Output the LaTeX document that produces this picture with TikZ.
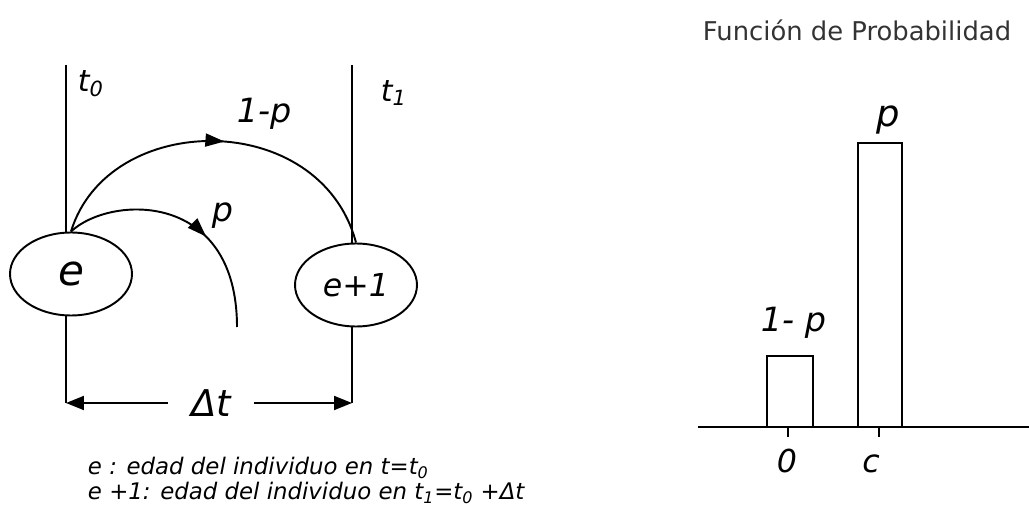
\documentclass[tikz,border=0pt]{standalone}
\usepackage{fontspec}
\setmainfont{DejaVu Sans}
\usetikzlibrary{positioning,shapes.geometric,arrows.meta,decorations.markings}

\begin{document}
\begin{tikzpicture}[x=0.02cm, y=-0.02cm, line width=1.1pt,
  >={Triangle[length=0.36cm,width=0.28cm]},
  every node/.style={font=\itshape\fontsize{19}{22}\selectfont, inner sep=0pt},
  estado/.style={draw, ellipse, minimum width=2.44cm, minimum height=1.66cm},
  leyenda/.style={anchor=base west, font=\itshape\fontsize{13}{15}\selectfont},
  flechamedia/.style={postaction={decorate}, decoration={markings,
    mark=at position #1 with {\arrow{Triangle[length=0.38cm,width=0.26cm]}}}}]
    \useasboundingbox (0,0) rectangle (1029,510);
    \node[estado] (e) at (71,274) {\fontsize{24}{26}\selectfont e};
    \node[estado, font=\itshape\fontsize{18}{21}\selectfont] (e1) at (356,285) {e+1};
    \coordinate (t0top) at (66,65);
    \coordinate (t1top) at (352,65);
    \coordinate (bl) at (66,403);
    \coordinate (br) at (352,403);
    \coordinate (pend) at (237,327);
    \draw (t0top) -- (t0top |- e.north);
    \draw (e.south -| bl) -- (bl);
    \draw (t1top) -- (t1top |- e1.north);
    \draw (e1.south -| br) -- (br);
    \node[anchor=west, font=\itshape\fontsize{17}{20}\selectfont] (t0) at (77,84) {t\textsubscript{0}};
    \node[anchor=west, font=\itshape\fontsize{17}{20}\selectfont] (t1) at (380,93) {t\textsubscript{1}};
    \draw[flechamedia=0.52] (e.north) .. controls (108,110) and (320,108) .. (e1.north);
    \draw[flechamedia=0.6] (e.north) .. controls (110,195) and (237,190) .. (pend);
    \node[anchor=base west] (unop) at (236,123) {1-p};
    \node[anchor=base west] (p) at (211,222) {p};
    \node[inner xsep=0.45cm, font=\itshape\fontsize{21}{24}\selectfont] (dt) at (211,403) {Δt};
    \draw[->] (dt) -- (bl);
    \draw[->] (dt) -- (br);
    \node[leyenda] (ley1) at (87,474) {e : edad del individuo en t=t\textsubscript{0}};
    \node[leyenda] (ley2) at (87,499) {e +1: edad del individuo en t\textsubscript{1}=t\textsubscript{0} +Δt};
    \node[font=\fontsize{14.7}{17}\selectfont, text=black!80] (titulo) at (857,30) {Función de Probabilidad};
    \coordinate (ejeL) at (698,427);
    \coordinate (ejeR) at (1029,427);
    \draw (ejeL) -- (ejeR);
    \draw (767,427) rectangle (813,356);
    \draw (858,427) rectangle (902,143);
    \draw (788,427) -- (788,437);
    \draw (879,427) -- (879,437);
    \node[anchor=base west] (unopbar) at (760,332) {1- p};
    \node[anchor=base west, font=\itshape\fontsize{21}{24}\selectfont] (pbar) at (876,127) {p};
    \node[anchor=base, font=\itshape\fontsize{18}{21}\selectfont] (cero) at (787,472) {0};
    \node[anchor=base, font=\itshape\fontsize{18}{21}\selectfont] (c) at (871,472) {c};
\end{tikzpicture}
\end{document}
